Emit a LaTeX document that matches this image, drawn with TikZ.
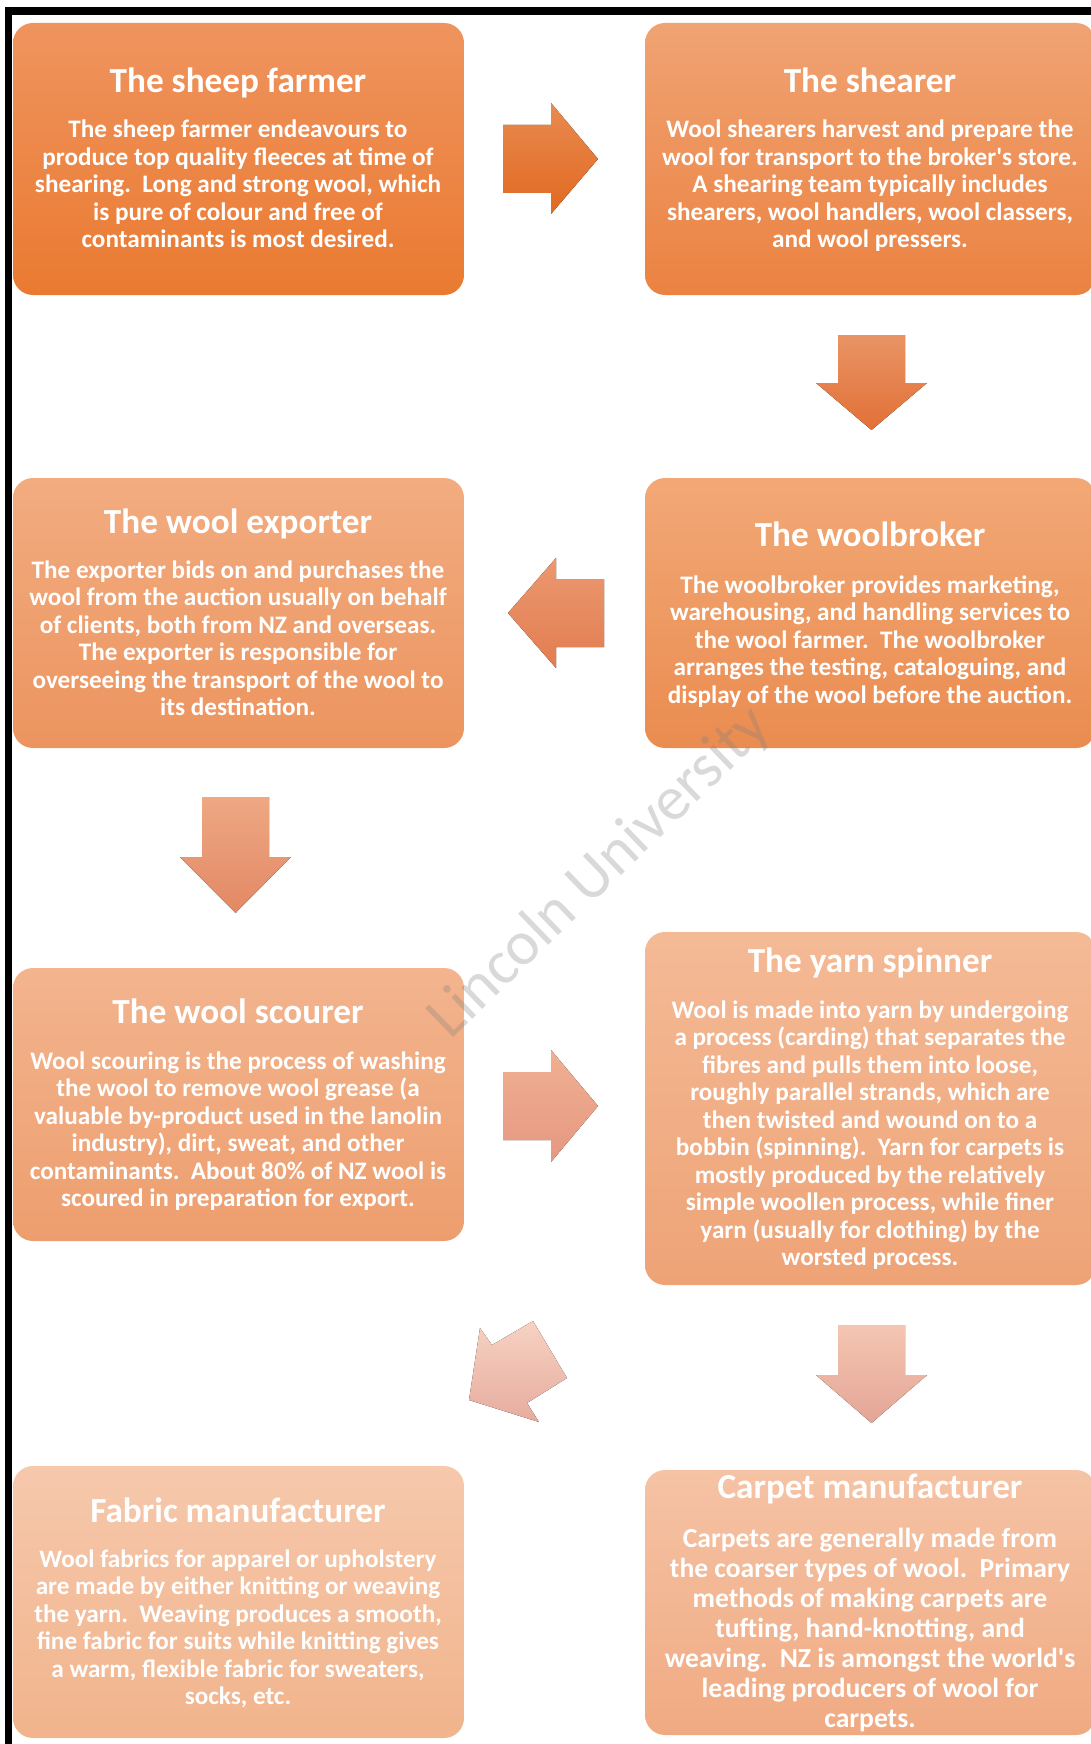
\documentclass[tikz,border=0pt]{standalone}
\usepackage{fontspec}
\usepackage{graphicx}
\setmainfont{Carlito}
\definecolor{b1t}{RGB}{239,148,95}\definecolor{b1b}{RGB}{234,122,48}
\definecolor{b2t}{RGB}{240,163,115}\definecolor{b2b}{RGB}{235,130,65}
\definecolor{b3t}{RGB}{242,172,128}\definecolor{b3b}{RGB}{236,148,95}
\definecolor{b4t}{RGB}{242,168,118}\definecolor{b4b}{RGB}{234,140,80}
\definecolor{b5t}{RGB}{243,180,142}\definecolor{b5b}{RGB}{237,158,110}
\definecolor{b6t}{RGB}{244,186,150}\definecolor{b6b}{RGB}{238,163,118}
\definecolor{b7t}{RGB}{246,200,172}\definecolor{b7b}{RGB}{241,180,140}
\definecolor{b8t}{RGB}{245,195,165}\definecolor{b8b}{RGB}{240,170,130}
\definecolor{a1t}{RGB}{233,138,80}\definecolor{a1b}{RGB}{225,105,32}
\definecolor{a2t}{RGB}{232,148,100}\definecolor{a2b}{RGB}{226,112,55}
\definecolor{a3t}{RGB}{236,152,112}\definecolor{a3b}{RGB}{226,125,80}
\definecolor{a4t}{RGB}{238,168,132}\definecolor{a4b}{RGB}{227,136,100}
\definecolor{a5t}{RGB}{240,176,146}\definecolor{a5b}{RGB}{229,152,128}
\definecolor{a6t}{RGB}{246,210,195}\definecolor{a6b}{RGB}{230,172,158}
\definecolor{a7t}{RGB}{244,198,178}\definecolor{a7b}{RGB}{228,165,150}
\newcommand{\blines}[2]{\scalebox{#1}[1]{\begin{tabular}[t]{@{}c@{}}#2\end{tabular}}}
\newcommand{\dsp}{\hspace{0.45em}}
\begin{document}
\begin{tikzpicture}[x=1pt,y=-1pt,
  stage/.style={rectangle, rounded corners=20pt, minimum width=451pt, minimum height=#1, inner sep=0pt},
  ttl/.style={anchor=base, text=white, inner sep=0pt, font=\fontsize{35.2}{40}\selectfont\bfseries},
  body/.style={anchor=base, text=white, inner sep=0pt, font=\fontsize{25.2}{27.5}\selectfont\bfseries},
  bigbody/.style={anchor=base, text=white, inner sep=0pt, font=\fontsize{27.6}{30}\selectfont\bfseries},
  blockarrow/.style={draw=none},
  watermark/.style={text=gray, opacity=0.3, inner sep=0pt, font=\fontsize{62.5}{62.5}\selectfont},
  frame/.style={line width=7.5pt, line join=miter}
]
\useasboundingbox (0,0) rectangle (1091,1744);
% frame
\coordinate (fTR) at (1100,11);
\coordinate (fTL) at (8.7,11);
\coordinate (fBL) at (8.7,1750);
\draw[frame] (fTR) -- (fTL) -- (fBL);

% boxes
\node[stage=272pt, top color=b1t, bottom color=b1b] (farmer) at (238.5,159) {};
\node[stage=272pt, top color=b2t, bottom color=b2b] (shearer) at (870.5,159) {};
\node[stage=270pt, top color=b3t, bottom color=b3b] (exporter) at (238.5,613) {};
\node[stage=270pt, top color=b4t, bottom color=b4b] (broker) at (870.5,613) {};
\node[stage=273pt, top color=b5t, bottom color=b5b] (scourer) at (238.5,1104.5) {};
\node[stage=353pt, top color=b6t, bottom color=b6b] (spinner) at (870.5,1108.5) {};
\node[stage=272pt, top color=b7t, bottom color=b7b] (fabric) at (238.5,1602) {};
\node[stage=265pt, top color=b8t, bottom color=b8b] (carpet) at (870.5,1602.5) {};

% texts
\node[ttl] (farmerT) at (238,93) {The sheep farmer};
\node[body] (farmerB) at (238,138) {\blines{1}{The sheep farmer endeavours to\\produce top quality fleeces at time of\\shearing.\dsp Long and strong wool, which\\is pure of colour and free of\\contaminants is most desired.}};

\node[ttl] (shearerT) at (870,93) {The shearer};
\node[body] (shearerB) at (870,138) {\blines{1}{Wool shearers harvest and prepare the\\wool for transport to the broker\textquotesingle s store.\\A shearing team typically includes\\shearers, wool handlers, wool classers,\\and wool pressers.}};

\node[ttl] (exporterT) at (238,533) {The wool exporter};
\node[body] (exporterB) at (238,578) {\blines{1}{The exporter bids on and purchases the\\wool from the auction usually on behalf\\of clients, both from NZ and overseas.\\The exporter is responsible for\\overseeing the transport of the wool to\\its destination.}};

\node[ttl] (brokerT) at (870,546) {The woolbroker};
\node[body] (brokerB) at (870,593) {\blines{1}{The woolbroker provides marketing,\\warehousing, and handling services to\\the wool farmer.\dsp The woolbroker\\arranges the testing, cataloguing, and\\display of the wool before the auction.}};

\node[ttl] (scourerT) at (238,1023) {The wool scourer};
\node[body] (scourerB) at (238,1069) {\blines{1}{Wool scouring is the process of washing\\the wool to remove wool grease (a\\valuable by-product used in the lanolin\\industry), dirt, sweat, and other\\contaminants.\dsp About 80\% of NZ wool is\\scoured in preparation for export.}};

\node[ttl] (spinnerT) at (870,972) {The yarn spinner};
\node[body] (spinnerB) at (870,1018) {\blines{1}{Wool is made into yarn by undergoing\\a process (carding) that separates the\\fibres and pulls them into loose,\\roughly parallel strands, which are\\then twisted and wound on to a\\bobbin (spinning).\dsp Yarn for carpets is\\mostly produced by the relatively\\simple woollen process, while finer\\yarn (usually for clothing) by the\\worsted process.}};

\node[ttl] (fabricT) at (238,1522) {Fabric manufacturer};
\node[body] (fabricB) at (238,1567) {\blines{1}{Wool fabrics for apparel or upholstery\\are made by either knitting or weaving\\the yarn.\dsp Weaving produces a smooth,\\fine fabric for suits while knitting gives\\a warm, flexible fabric for sweaters,\\socks, etc.}};

\node[ttl] (carpetT) at (870,1498) {Carpet manufacturer};
\node[bigbody] (carpetB) at (870,1547) {\blines{1}{Carpets are generally made from\\the coarser types of wool.\dsp Primary\\methods of making carpets are\\tufting, hand-knotting, and\\weaving.\dsp NZ is amongst the world\textquotesingle s\\leading producers of wool for\\carpets.}};

% block arrows
\fill[blockarrow, top color=a1t, bottom color=a1b] (503,125) -- (551,125) -- (551,103) -- (598,159) -- (551,214) -- (551,193) -- (503,193) -- cycle;
\fill[blockarrow, top color=a2t, bottom color=a2b] (838,335) -- (905,335) -- (905,383) -- (927,383) -- (871.5,430) -- (816,383) -- (838,383) -- cycle;
\fill[blockarrow, top color=a3t, bottom color=a3b] (604,579) -- (556,579) -- (556,558) -- (508,613) -- (556,668) -- (556,647) -- (604,647) -- cycle;
\fill[blockarrow, top color=a4t, bottom color=a4b] (202,797) -- (269,797) -- (269,857) -- (291,857) -- (235.5,913) -- (180,857) -- (202,857) -- cycle;
\fill[blockarrow, top color=a5t, bottom color=a5b] (503,1072) -- (551,1072) -- (551,1050) -- (598,1106) -- (551,1162) -- (551,1140) -- (503,1140) -- cycle;
\fill[blockarrow, top color=a6t, bottom color=a6b] (480,1328) -- (492,1345) -- (533,1321) -- (567,1378) -- (527,1403) -- (539,1422) -- (469,1400) -- cycle;
\fill[blockarrow, top color=a7t, bottom color=a7b] (838,1325) -- (905,1325) -- (905,1375) -- (927,1375) -- (871.5,1423) -- (816,1375) -- (838,1375) -- cycle;

% watermark
\node[watermark, rotate=44] (wm) at (600,873) {Lincoln University};
\end{tikzpicture}
\end{document}
